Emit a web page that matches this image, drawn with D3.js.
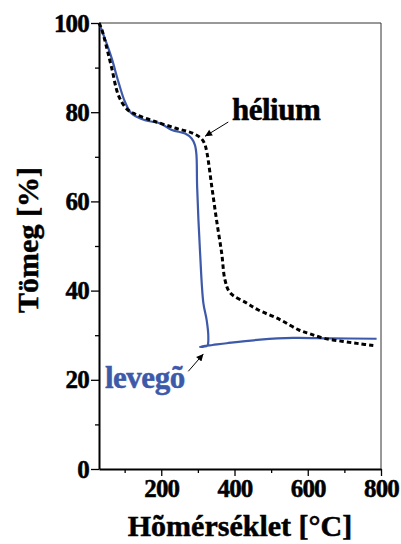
<!DOCTYPE html>
<html>
<head>
<meta charset="utf-8">
<script src="https://cdn.jsdelivr.net/npm/d3@7/dist/d3.min.js"></script>
<style>
html,body{margin:0;padding:0;background:#fff;}
svg{display:block;}
text{font-family:"Liberation Serif","Times New Roman",serif;font-weight:bold;}
</style>
</head>
<body>
<svg id="chart" width="401" height="544"></svg>
<script>
// ---- data ----
const xMajorTicks = [200, 400, 600, 800];
const xMinorTicks = [100, 300, 500, 700];
const yMajorTicks = [0, 20, 40, 60, 80, 100];
const yMinorTicks = [10, 30, 50, 70, 90];

// levegő (air)
const airT = [30, 46, 65, 83, 101, 119, 156, 197, 229, 265, 283, 292, 296, 298, 306, 315, 324, 328.5, 326, 316, 306, 320, 340, 379, 470, 560, 661, 788];
const airW = [100, 96.5, 92.0, 86.8, 82.3, 79.7, 78.2, 77.5, 76.0, 75.2, 74.1, 72.6, 70.5, 63.2, 48.5, 37.2, 33.4, 29.7, 27.7, 27.45, 27.4, 27.6, 27.8, 28.2, 29.0, 29.4, 29.3, 29.2];

// hélium
const heT = [30, 37, 51, 65, 83, 105, 128, 180, 240, 285, 308, 318, 325, 338, 351, 365, 374, 388, 433, 464, 524, 575, 606, 645, 697, 740, 779];
const heW = [100, 98.7, 94.5, 89.8, 83.8, 80.8, 79.6, 78.0, 76.4, 75.3, 74.2, 73.0, 70.8, 63.3, 55.8, 48.4, 42.4, 39.5, 37.2, 35.7, 33.5, 31.2, 30.3, 29.3, 28.6, 28.1, 27.7];

const xTitle = "Hõmérséklet [°C]";
const yTitle = "Tömeg [%]";
const heLabel = "hélium";
const airLabel = "levegõ";

// ---- layout ----
const svg = d3.select("#chart");
const mLeft = 99, mRight = 381, mTop = 23, mBottom = 469;
const blue = "#3d59a9";

const x = d3.scaleLinear().domain([30, 800]).range([mLeft, mRight]);
const y = d3.scaleLinear().domain([0, 100]).range([mBottom, mTop]);

// frame top & right
svg.append("line").attr("x1", mLeft).attr("x2", mRight).attr("y1", mTop).attr("y2", mTop)
  .attr("stroke", "#333").attr("stroke-width", 1);
svg.append("line").attr("x1", mRight).attr("x2", mRight).attr("y1", mTop).attr("y2", mBottom)
  .attr("stroke", "#333").attr("stroke-width", 1);

// axes
const fontSize = 25;
svg.append("g").attr("transform", `translate(0,${mBottom})`)
  .call(d3.axisBottom(x).tickValues(xMajorTicks).tickSize(7).tickPadding(3).tickSizeOuter(0));
svg.append("g").attr("transform", `translate(0,${mBottom})`)
  .call(d3.axisBottom(x).tickValues(xMinorTicks).tickSize(4).tickFormat("").tickSizeOuter(0))
  .select(".domain").remove();
svg.append("g").attr("transform", `translate(${mLeft},0)`)
  .call(d3.axisLeft(y).tickValues(yMajorTicks).tickSize(8).tickPadding(2).tickSizeOuter(0));
svg.append("g").attr("transform", `translate(${mLeft},0)`)
  .call(d3.axisLeft(y).tickValues(yMinorTicks).tickSize(4).tickFormat("").tickSizeOuter(0))
  .select(".domain").remove();

svg.selectAll(".domain").attr("stroke", "#000").attr("stroke-width", 2);
svg.selectAll(".tick line").attr("stroke", "#000").attr("stroke-width", 1.3);
svg.selectAll(".tick text")
  .attr("font-family", '"Liberation Serif", serif')
  .attr("font-weight", "bold")
  .attr("font-size", fontSize)
  .attr("letter-spacing", "-0.8")
  .attr("fill", "#000")
  .attr("stroke", "#000").attr("stroke-width", 0.5);

// curves
const line = d3.line().x(d => x(d[0])).y(d => y(d[1])).curve(d3.curveCatmullRom.alpha(0.5));
const airData = airT.map((t, i) => [t, airW[i]]);
const heData = heT.map((t, i) => [t, heW[i]]);

svg.append("path").datum(airData).attr("d", line)
  .attr("fill", "none").attr("stroke", blue).attr("stroke-width", 2.2);
svg.append("path").datum(heData).attr("d", line)
  .attr("fill", "none").attr("stroke", "#000").attr("stroke-width", 3)
  .attr("stroke-dasharray", "4.5,3");

// arrow marker
svg.append("defs").append("marker")
  .attr("id", "arr").attr("viewBox", "0 0 10 10").attr("refX", 10).attr("refY", 5)
  .attr("markerWidth", 8).attr("markerHeight", 7).attr("markerUnits", "userSpaceOnUse")
  .attr("orient", "auto")
  .append("path").attr("d", "M0,0 L10,5 L0,10 Z").attr("fill", "#000");

// annotations
svg.append("line")
  .attr("x1", x(383)).attr("y1", y(77.8)).attr("x2", x(319.5)).attr("y2", y(74.6))
  .attr("stroke", "#000").attr("stroke-width", 1).attr("marker-end", "url(#arr)");
svg.append("line")
  .attr("x1", x(273.8)).attr("y1", y(21.9)).attr("x2", x(315)).attr("y2", y(25.8))
  .attr("stroke", "#000").attr("stroke-width", 1).attr("marker-end", "url(#arr)");

svg.append("text").attr("x", x(393)).attr("y", y(78.2))
  .attr("font-size", 31).attr("letter-spacing", "-0.5").attr("fill", "#000")
  .attr("stroke", "#000").attr("stroke-width", 0.5).text(heLabel);
svg.append("text").attr("x", x(46.4)).attr("y", y(18.2))
  .attr("font-size", 31).attr("letter-spacing", "-0.5").attr("fill", blue)
  .attr("stroke", blue).attr("stroke-width", 0.5).text(airLabel);

// titles
svg.append("text").attr("x", (mLeft + mRight) / 2).attr("y", 536)
  .attr("text-anchor", "middle").attr("font-size", 30).attr("fill", "#000")
  .attr("stroke", "#000").attr("stroke-width", 0.5).text(xTitle);
svg.append("text").attr("transform", `translate(38,240) rotate(-90)`)
  .attr("text-anchor", "middle").attr("font-size", 30).attr("fill", "#000")
  .attr("stroke", "#000").attr("stroke-width", 0.5).text(yTitle);
</script>
</body>
</html>
